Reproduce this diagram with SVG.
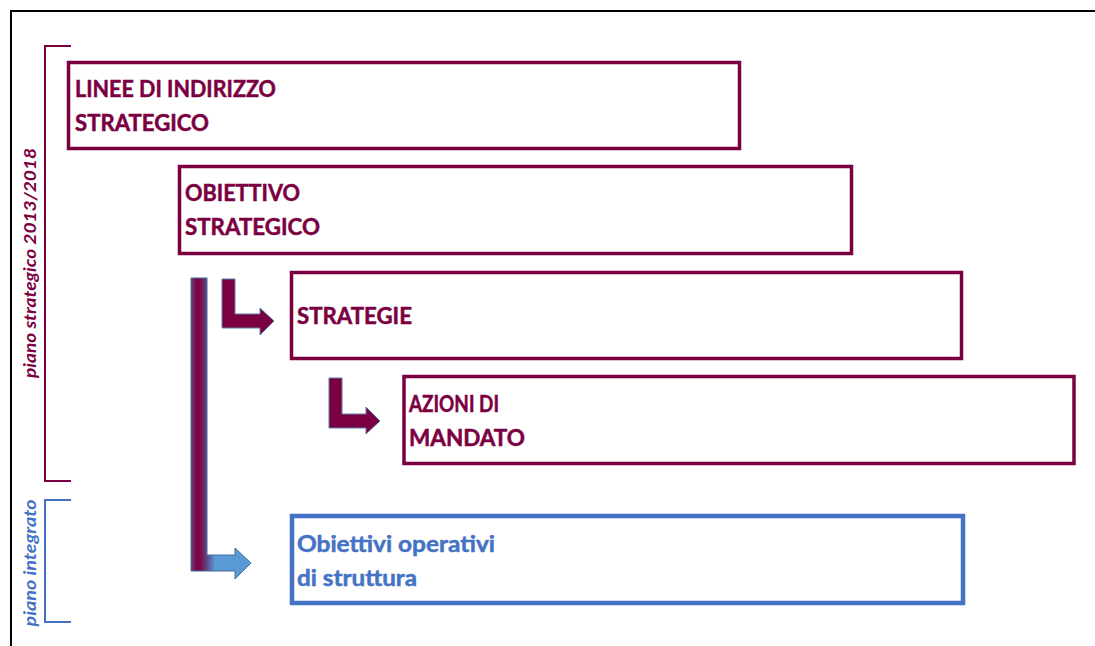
<svg xmlns="http://www.w3.org/2000/svg" width="1095" height="646" viewBox="0 0 1095 646">
<style>
.bg{fill:#fff}
.frame{fill:none;stroke:#000;stroke-width:2}
.box{fill:#fff;stroke:#7B0041;stroke-width:3.5}
.boxb{fill:#fff;stroke:#4472C4;stroke-width:4.5}
.t{font-family:Lato,"Open Sans","Liberation Sans",sans-serif;font-weight:bold;font-size:23px;fill:#7B0041;stroke:#7B0041;stroke-width:0.5}
.tb{font-family:Lato,"Open Sans","Liberation Sans",sans-serif;font-weight:bold;font-size:23px;fill:#4472C4;stroke:#4472C4;stroke-width:0.5}
.side{font-family:Lato,"Open Sans","Liberation Sans",sans-serif;font-weight:bold;font-style:italic;font-size:17px}
.brk{fill:none;stroke:#7B0041;stroke-width:2}
.brkb{fill:none;stroke:#4472C4;stroke-width:2}
.arr{fill:#7B0041;stroke:#5A7FA8;stroke-width:1}
</style>
<defs>
<linearGradient id="g" gradientUnits="userSpaceOnUse" x1="191" y1="0" x2="251" y2="0">
<stop offset="0" stop-color="#6B3F7E"/>
<stop offset="0.1" stop-color="#7B0041"/>
<stop offset="0.17" stop-color="#7B0E4C"/>
<stop offset="0.27" stop-color="#5E4A8C"/>
<stop offset="0.4" stop-color="#5B9BD5"/>
<stop offset="1" stop-color="#5B9BD5"/>
</linearGradient>
</defs>
<rect class="bg" x="0" y="0" width="1095" height="646"/>
<path class="frame" d="M11,646 L11,11 L1095,11"/>

<g id="side-labels">
<path class="brk" d="M71,46 L45,46 L45,481 L71,481"/>
<text class="side" fill="#7B0041" transform="translate(36,263) rotate(-90)" text-anchor="middle" textLength="230" lengthAdjust="spacingAndGlyphs">piano strategico 2013/2018</text>
<path class="brkb" d="M71,500 L45,500 L45,622 L71,622"/>
<text class="side" fill="#4472C4" transform="translate(36,563) rotate(-90)" text-anchor="middle" textLength="127" lengthAdjust="spacingAndGlyphs">piano integrato</text>
</g>

<g id="connectors">
<path fill="url(#g)" stroke="#41719C" stroke-width="1" d="M191,278 L207,278 L207,555 L235,555 L235,548 L251,563 L235,579 L235,571 L191,571 Z"/>
<path class="arr" d="M222,279 L235,279 L235,314 L260,314 L260,308 L274,321 L260,335 L260,328 L222,328 Z"/>
<path class="arr" d="M329,378 L342,378 L342,414 L366,414 L366,407 L380,421 L366,434 L366,428 L329,428 Z"/>
</g>

<g id="linee">
<rect class="box" x="68.5" y="62.5" width="671" height="86"/>
<text class="t" x="75" y="97" textLength="201" lengthAdjust="spacingAndGlyphs">LINEE DI INDIRIZZO</text>
<text class="t" x="75" y="131" textLength="134" lengthAdjust="spacingAndGlyphs">STRATEGICO</text>
</g>

<g id="obiettivo">
<rect class="box" x="179.5" y="166.5" width="672" height="87"/>
<text class="t" x="185" y="201" textLength="115" lengthAdjust="spacingAndGlyphs">OBIETTIVO</text>
<text class="t" x="185" y="235" textLength="135" lengthAdjust="spacingAndGlyphs">STRATEGICO</text>
</g>

<g id="strategie">
<rect class="box" x="291.5" y="272.5" width="670" height="86"/>
<text class="t" x="297" y="324" textLength="115" lengthAdjust="spacingAndGlyphs">STRATEGIE</text>
</g>

<g id="azioni">
<rect class="box" x="404" y="376.5" width="670" height="87"/>
<text class="t" x="409" y="412" textLength="90" lengthAdjust="spacingAndGlyphs">AZIONI DI</text>
<text class="t" x="409" y="446" textLength="116" lengthAdjust="spacingAndGlyphs">MANDATO</text>
</g>

<g id="operativi">
<rect class="boxb" x="292" y="516" width="671" height="87"/>
<text class="tb" x="297" y="552" textLength="198" lengthAdjust="spacingAndGlyphs">Obiettivi operativi</text>
<text class="tb" x="297" y="586" textLength="120" lengthAdjust="spacingAndGlyphs">di struttura</text>
</g>
</svg>
